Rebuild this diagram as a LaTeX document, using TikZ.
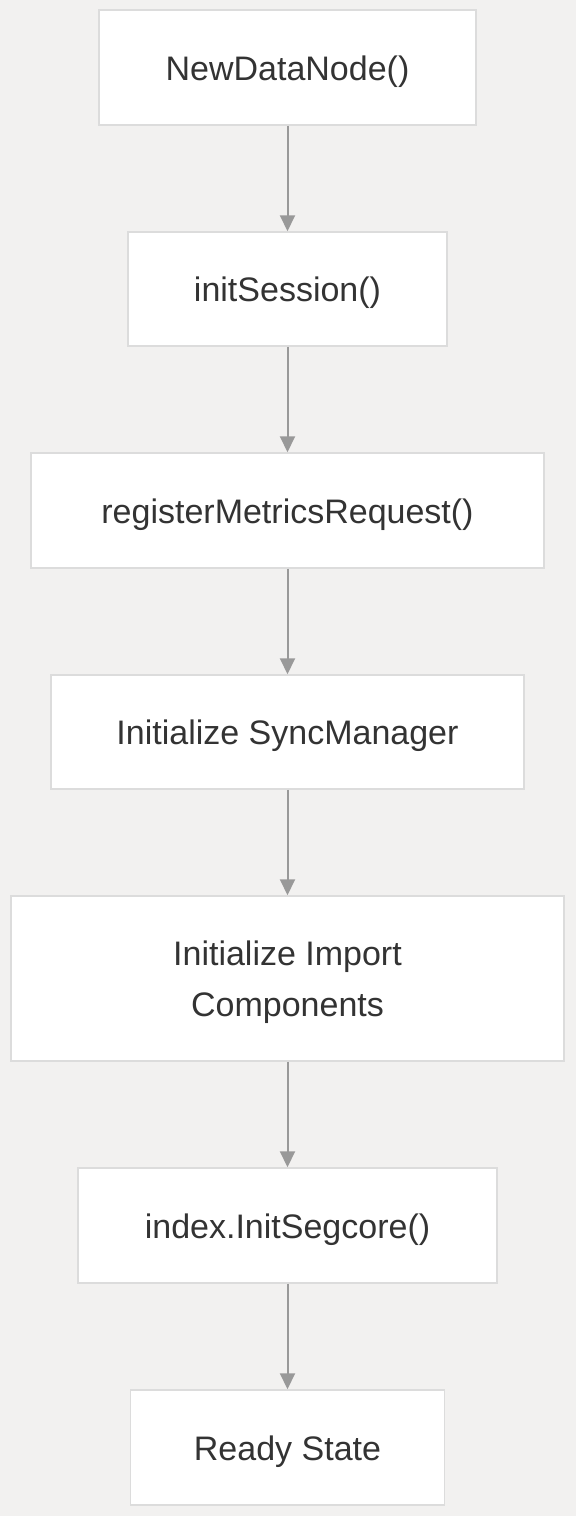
\documentclass[tikz,border=0pt]{standalone}
\usepackage{fontspec}
\setmainfont{Liberation Sans}
\usetikzlibrary{arrows.meta}
\definecolor{bg}{HTML}{F2F1F0}
\definecolor{boxline}{HTML}{DCDCDC}
\definecolor{arrowc}{HTML}{999999}
\definecolor{txt}{HTML}{333333}
\newcommand{\lowertxt}[1]{\raisebox{-4pt}[\height][\depth]{#1}}
\begin{document}
\begin{tikzpicture}[x=1pt,y=-1pt,
  stepbox/.style={draw=boxline,line width=1.5pt,fill=white,inner sep=0pt,
    text=txt,font=\fontsize{34}{51}\selectfont,align=center},
  flow/.style={draw=arrowc,line width=2pt,-{Triangle[length=16pt,width=15pt]}}]
\fill[bg] (0,0) rectangle (576,1516);
\useasboundingbox (0,0) rectangle (576,1516);
\node[stepbox,minimum width=377pt,minimum height=115pt] (a) at (287.5,67.5) {\lowertxt{NewDataNode()}};
\node[stepbox,minimum width=319pt,minimum height=114pt] (b) at (287.5,289) {\lowertxt{initSession()}};
\node[stepbox,minimum width=513pt,minimum height=115pt] (c) at (287.5,510.5) {\lowertxt{registerMetricsRequest()}};
\node[stepbox,minimum width=473pt,minimum height=114pt] (d) at (287.5,732) {\lowertxt{Initialize SyncManager}};
\node[stepbox,minimum width=553pt,minimum height=165pt] (e) at (287.5,978.5) {\lowertxt{Initialize Import}\\\lowertxt{Components}};
\node[stepbox,minimum width=419pt,minimum height=115pt] (f) at (287.5,1225.5) {\lowertxt{index.InitSegcore()}};
\node[stepbox,minimum width=314pt,minimum height=115pt] (g) at (287.5,1447.5) {\lowertxt{Ready State}};
\draw[flow] (a) -- (b);
\draw[flow] (b) -- (c);
\draw[flow] (c) -- (d);
\draw[flow] (d) -- (e);
\draw[flow] (e) -- (f);
\draw[flow] (f) -- (g);
\end{tikzpicture}
\end{document}
